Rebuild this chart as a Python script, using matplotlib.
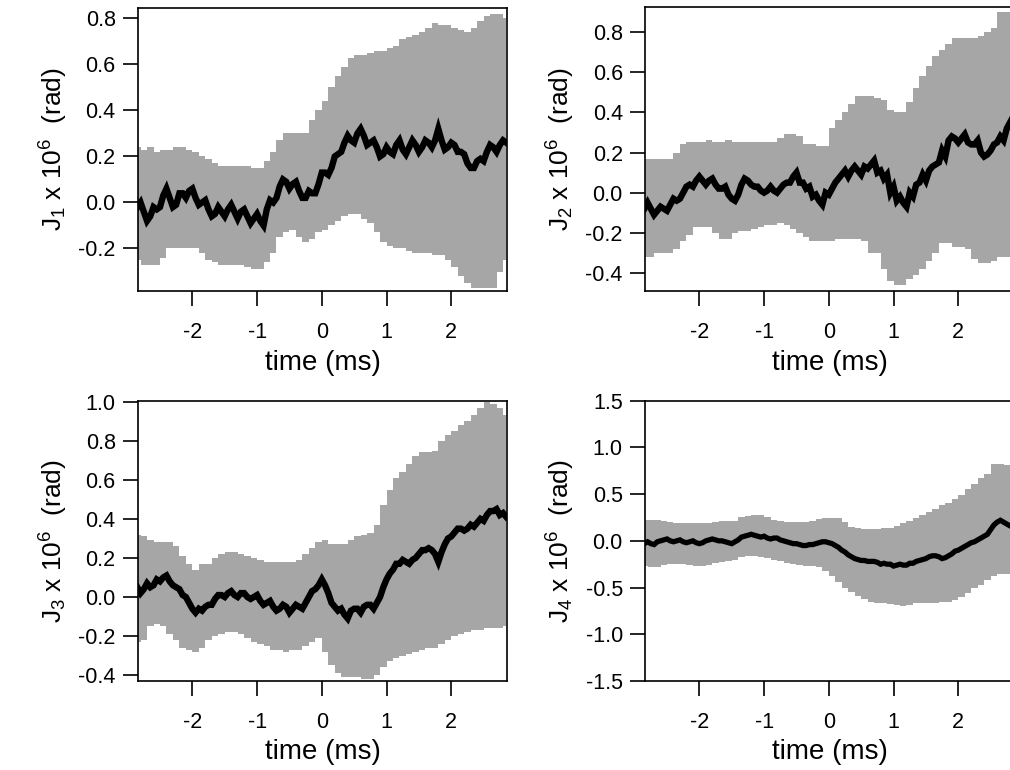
import numpy as np
import matplotlib
matplotlib.use("Agg")
import matplotlib.pyplot as plt

plt.rcParams['font.family'] = ['Liberation Sans', 'DejaVu Sans']
plt.rcParams['mathtext.default'] = 'regular'

# error band sample times (ms), 0.1 ms apart
t = np.linspace(-2.85, 2.85, 58)
# trace sample times (ms), 0.05 ms apart
t_fine = np.linspace(-2.85, 2.85, 115)

# panel J1
j1_mean = [-0.02, 0.00, -0.04, -0.08, -0.06, -0.02, -0.03, -0.02, 0.03, 0.06,
           0.02, -0.02, -0.01, 0.04, 0.04, 0.02, 0.05, 0.06, 0.02, -0.01,
           0.00, 0.01, -0.03, -0.06, -0.05, -0.02, -0.04, -0.06, -0.03, -0.01,
           -0.04, -0.07, -0.04, -0.03, -0.06, -0.09, -0.07, -0.05, -0.08, -0.10,
           -0.03, 0.01, 0.00, 0.02, 0.07, 0.10, 0.09, 0.06, 0.08, 0.09,
           0.05, 0.02, 0.02, 0.05, 0.04, 0.04, 0.08, 0.13, 0.13, 0.12,
           0.15, 0.20, 0.21, 0.22, 0.26, 0.29, 0.27, 0.26, 0.30, 0.32,
           0.29, 0.25, 0.26, 0.27, 0.24, 0.20, 0.21, 0.24, 0.22, 0.21,
           0.25, 0.27, 0.23, 0.21, 0.24, 0.27, 0.25, 0.22, 0.24, 0.27,
           0.26, 0.24, 0.27, 0.32, 0.27, 0.23, 0.24, 0.26, 0.25, 0.22,
           0.22, 0.21, 0.17, 0.15, 0.15, 0.18, 0.19, 0.18, 0.22, 0.25,
           0.24, 0.22, 0.25, 0.27, 0.26]
j1_hi = [0.24, 0.23, 0.24, 0.22, 0.23, 0.23, 0.24, 0.24, 0.23, 0.22,
         0.20, 0.19, 0.17, 0.16, 0.16, 0.16, 0.16, 0.16, 0.15, 0.15,
         0.18, 0.22, 0.27, 0.30, 0.30, 0.30, 0.30, 0.36, 0.40, 0.44,
         0.50, 0.55, 0.59, 0.63, 0.64, 0.64, 0.65, 0.66, 0.66, 0.67,
         0.68, 0.71, 0.72, 0.73, 0.74, 0.76, 0.78, 0.77, 0.77, 0.76,
         0.75, 0.74, 0.76, 0.79, 0.81, 0.82, 0.82, 0.80]
j1_lo = [-0.25, -0.27, -0.27, -0.27, -0.24, -0.20, -0.20, -0.20, -0.20, -0.20,
         -0.22, -0.25, -0.26, -0.27, -0.27, -0.27, -0.27, -0.28, -0.29, -0.29,
         -0.26, -0.22, -0.15, -0.13, -0.12, -0.15, -0.17, -0.16, -0.13, -0.12,
         -0.10, -0.08, -0.06, -0.05, -0.05, -0.07, -0.09, -0.13, -0.17, -0.19,
         -0.20, -0.20, -0.21, -0.22, -0.22, -0.22, -0.23, -0.23, -0.25, -0.28,
         -0.32, -0.35, -0.37, -0.37, -0.37, -0.37, -0.30, -0.25]

# panel J2
j2_mean = [-0.08, -0.05, -0.08, -0.11, -0.09, -0.07, -0.08, -0.09, -0.06, -0.03,
           -0.04, -0.03, 0.00, 0.03, 0.04, 0.03, 0.06, 0.08, 0.06, 0.04,
           0.06, 0.07, 0.04, 0.02, 0.02, 0.03, -0.01, -0.03, -0.04, -0.01,
           0.04, 0.07, 0.06, 0.04, 0.03, 0.03, 0.01, 0.00, 0.01, 0.03,
           0.01, 0.00, 0.02, 0.04, 0.05, 0.05, 0.08, 0.10, 0.05, 0.05,
           0.02, 0.03, -0.02, -0.01, -0.04, -0.06, 0.00, -0.01, 0.02, 0.05,
           0.07, 0.09, 0.11, 0.08, 0.11, 0.13, 0.11, 0.09, 0.13, 0.12,
           0.14, 0.16, 0.10, 0.11, 0.07, 0.09, 0.00, 0.03, -0.04, -0.02,
           -0.05, -0.07, 0.00, -0.02, 0.04, 0.05, 0.09, 0.06, 0.11, 0.13,
           0.14, 0.15, 0.21, 0.18, 0.26, 0.28, 0.27, 0.25, 0.27, 0.29,
           0.25, 0.24, 0.24, 0.26, 0.20, 0.18, 0.19, 0.21, 0.24, 0.25,
           0.28, 0.26, 0.32, 0.35, 0.30]
j2_hi = [0.17, 0.17, 0.17, 0.17, 0.17, 0.20, 0.24, 0.25, 0.25, 0.25,
         0.26, 0.25, 0.25, 0.26, 0.25, 0.25, 0.25, 0.25, 0.25, 0.25,
         0.25, 0.27, 0.29, 0.29, 0.28, 0.24, 0.24, 0.23, 0.23, 0.32,
         0.36, 0.40, 0.44, 0.48, 0.48, 0.48, 0.47, 0.46, 0.41, 0.40,
         0.40, 0.45, 0.52, 0.58, 0.63, 0.68, 0.71, 0.74, 0.77, 0.77,
         0.77, 0.77, 0.78, 0.80, 0.82, 0.90, 0.90, 0.90]
j2_lo = [-0.32, -0.32, -0.30, -0.30, -0.30, -0.28, -0.24, -0.21, -0.17, -0.17,
         -0.17, -0.20, -0.23, -0.23, -0.20, -0.19, -0.19, -0.18, -0.17, -0.16,
         -0.16, -0.15, -0.16, -0.18, -0.20, -0.22, -0.24, -0.24, -0.24, -0.24,
         -0.23, -0.23, -0.23, -0.23, -0.24, -0.30, -0.30, -0.38, -0.44, -0.46,
         -0.46, -0.43, -0.41, -0.38, -0.34, -0.30, -0.25, -0.25, -0.27, -0.27,
         -0.28, -0.33, -0.35, -0.35, -0.34, -0.32, -0.32, -0.32]

# panel J3
j3_mean = [0.05, 0.02, 0.04, 0.07, 0.05, 0.06, 0.09, 0.08, 0.10, 0.11,
           0.08, 0.06, 0.05, 0.04, 0.01, 0.00, -0.03, -0.06, -0.08, -0.06,
           -0.07, -0.05, -0.04, -0.04, -0.01, 0.01, 0.01, 0.00, 0.02, 0.03,
           0.01, 0.00, 0.02, 0.02, 0.00, -0.01, 0.00, 0.01, -0.02, -0.04,
           -0.03, -0.02, -0.05, -0.07, -0.06, -0.04, -0.05, -0.08, -0.06, -0.04,
           -0.05, -0.06, -0.03, 0.00, 0.03, 0.04, 0.06, 0.09, 0.06, 0.02,
           -0.03, -0.05, -0.07, -0.06, -0.09, -0.11, -0.07, -0.06, -0.06, -0.08,
           -0.05, -0.04, -0.04, -0.06, -0.03, 0.00, 0.05, 0.09, 0.12, 0.14,
           0.17, 0.17, 0.19, 0.18, 0.17, 0.19, 0.20, 0.22, 0.24, 0.24,
           0.25, 0.24, 0.22, 0.18, 0.23, 0.27, 0.30, 0.31, 0.33, 0.35,
           0.35, 0.34, 0.35, 0.37, 0.36, 0.38, 0.40, 0.39, 0.42, 0.44,
           0.44, 0.45, 0.42, 0.43, 0.41]
j3_hi = [0.32, 0.31, 0.29, 0.28, 0.28, 0.28, 0.26, 0.21, 0.17, 0.14,
         0.17, 0.17, 0.20, 0.22, 0.23, 0.23, 0.22, 0.21, 0.20, 0.19,
         0.18, 0.18, 0.18, 0.18, 0.18, 0.19, 0.22, 0.25, 0.28, 0.29,
         0.27, 0.27, 0.27, 0.29, 0.31, 0.32, 0.33, 0.37, 0.47, 0.55,
         0.61, 0.64, 0.68, 0.72, 0.74, 0.74, 0.75, 0.80, 0.83, 0.85,
         0.88, 0.90, 0.93, 0.97, 1.00, 0.99, 0.97, 0.93]
j3_lo = [-0.23, -0.22, -0.15, -0.14, -0.15, -0.19, -0.22, -0.26, -0.27, -0.28,
         -0.26, -0.22, -0.20, -0.19, -0.18, -0.18, -0.19, -0.21, -0.23, -0.24,
         -0.25, -0.27, -0.27, -0.28, -0.27, -0.27, -0.25, -0.23, -0.21, -0.28,
         -0.35, -0.39, -0.41, -0.41, -0.41, -0.42, -0.42, -0.40, -0.36, -0.33,
         -0.31, -0.30, -0.29, -0.28, -0.27, -0.26, -0.26, -0.24, -0.22, -0.20,
         -0.19, -0.18, -0.17, -0.17, -0.16, -0.16, -0.16, -0.15]

# panel J4
j4_mean = [-0.03, -0.01, -0.03, -0.04, -0.01, 0.00, 0.01, 0.02, 0.00, -0.01,
           0.00, 0.01, -0.01, -0.02, -0.01, 0.00, -0.02, -0.03, -0.02, 0.00,
           0.01, 0.02, 0.01, 0.00, 0.00, -0.01, -0.02, -0.03, -0.01, 0.01,
           0.04, 0.05, 0.06, 0.07, 0.06, 0.05, 0.04, 0.05, 0.03, 0.02,
           0.03, 0.03, 0.01, 0.00, -0.01, -0.02, -0.03, -0.03, -0.04, -0.05,
           -0.05, -0.04, -0.04, -0.03, -0.02, -0.01, -0.01, -0.02, -0.03, -0.05,
           -0.07, -0.10, -0.12, -0.15, -0.17, -0.19, -0.20, -0.21, -0.21, -0.22,
           -0.22, -0.22, -0.23, -0.25, -0.24, -0.25, -0.25, -0.27, -0.26, -0.25,
           -0.26, -0.26, -0.24, -0.24, -0.22, -0.21, -0.20, -0.19, -0.17, -0.16,
           -0.16, -0.17, -0.19, -0.18, -0.16, -0.14, -0.11, -0.10, -0.08, -0.06,
           -0.04, -0.02, -0.01, 0.01, 0.03, 0.05, 0.07, 0.12, 0.17, 0.20,
           0.22, 0.20, 0.18, 0.16, 0.15]
j4_hi = [0.22, 0.22, 0.22, 0.21, 0.20, 0.19, 0.19, 0.19, 0.19, 0.19,
         0.19, 0.20, 0.21, 0.21, 0.21, 0.25, 0.27, 0.28, 0.28, 0.26,
         0.22, 0.21, 0.20, 0.20, 0.20, 0.20, 0.21, 0.23, 0.24, 0.24,
         0.24, 0.20, 0.15, 0.14, 0.13, 0.13, 0.13, 0.14, 0.14, 0.16,
         0.19, 0.21, 0.24, 0.28, 0.31, 0.34, 0.38, 0.41, 0.45, 0.49,
         0.55, 0.61, 0.67, 0.72, 0.82, 0.82, 0.81, 0.80]
j4_lo = [-0.27, -0.28, -0.28, -0.26, -0.25, -0.25, -0.25, -0.26, -0.27, -0.27,
         -0.26, -0.24, -0.23, -0.22, -0.20, -0.17, -0.16, -0.16, -0.17, -0.18,
         -0.20, -0.22, -0.24, -0.25, -0.26, -0.27, -0.27, -0.28, -0.32, -0.38,
         -0.44, -0.50, -0.55, -0.59, -0.62, -0.65, -0.66, -0.67, -0.68, -0.69,
         -0.70, -0.69, -0.67, -0.67, -0.66, -0.66, -0.65, -0.65, -0.63, -0.60,
         -0.56, -0.51, -0.47, -0.42, -0.38, -0.36, -0.35, -0.34]

panels = [
    ("J$_1$ x 10$^6$  (rad)", j1_mean, j1_lo, j1_hi, (-0.385, 0.845), [-0.2, 0.0, 0.2, 0.4, 0.6, 0.8]),
    ("J$_2$ x 10$^6$  (rad)", j2_mean, j2_lo, j2_hi, (-0.49, 0.925), [-0.4, -0.2, 0.0, 0.2, 0.4, 0.6, 0.8]),
    ("J$_3$ x 10$^6$  (rad)", j3_mean, j3_lo, j3_hi, (-0.43, 1.005), [-0.4, -0.2, 0.0, 0.2, 0.4, 0.6, 0.8, 1.0]),
    ("J$_4$ x 10$^6$  (rad)", j4_mean, j4_lo, j4_hi, (-1.5, 1.5), [-1.5, -1.0, -0.5, 0.0, 0.5, 1.0, 1.5]),
]
trace_widths = [4.6, 4.6, 4.6, 3.8]

# axes rectangles in figure fractions
rects = [
    [0.1366, 0.622, 0.3653, 0.3675],
    [0.6386, 0.622, 0.3653, 0.3690],
    [0.1366, 0.1156, 0.3653, 0.3640],
    [0.6386, 0.1156, 0.3653, 0.3640],
]

fig = plt.figure(figsize=(10.1, 7.7), dpi=100)

for (label, mean, lo, hi, ylim, yticks), rect, lw in zip(panels, rects, trace_widths):
    ax = fig.add_axes(rect)
    ax.fill_between(t, lo, hi, step='mid', color='#a6a6a6', lw=0)
    ax.plot(t_fine, mean, color='black', lw=lw, solid_joinstyle='miter')
    ax.set_xlim(-2.84, 2.86)
    ax.set_ylim(*ylim)
    ax.set_xticks([-2, -1, 0, 1, 2])
    ax.set_xticklabels(['-2', '-1', '0', '1', '2'])
    ax.set_yticks(yticks)
    ax.set_yticklabels(['%.1f' % v for v in yticks])
    ax.tick_params(direction='out', length=11, width=1.2, labelsize=15.5, pad=5, color='black')
    ax.tick_params(axis='x', pad=11)
    for s in ax.spines.values():
        s.set_linewidth(1.2)
    ax.set_xlabel('time (ms)', fontsize=20, labelpad=5)
    ax.set_ylabel(label, fontsize=19, labelpad=6)

fig.savefig('out.png', dpi=100)
